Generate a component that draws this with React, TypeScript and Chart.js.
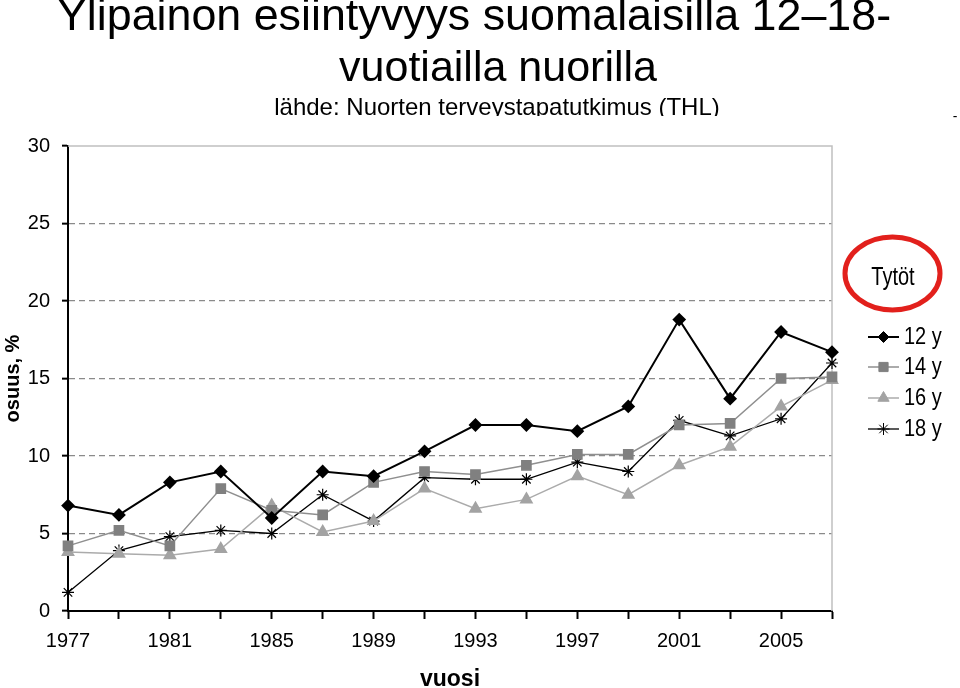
import React, { useEffect, useRef } from "react";
import { Chart, registerables } from "chart.js";

Chart.register(...registerables);

const years = ["1977", "1979", "1981", "1983", "1985", "1987", "1989", "1991", "1993", "1995", "1997", "1999", "2001", "2003", "2005", "2007"];
const labeledYears = ["1977", "1981", "1985", "1989", "1993", "1997", "2001", "2005"];
const girls12 = [6.8, 6.2, 8.3, 9.0, 6.0, 9.0, 8.7, 10.3, 12.0, 12.0, 11.6, 13.2, 18.8, 13.7, 18.0, 16.7];
const girls14 = [4.2, 5.2, 4.2, 7.9, 6.5, 6.2, 8.3, 9.0, 8.8, 9.4, 10.1, 10.1, 12.0, 12.1, 15.0, 15.1];
const girls16 = [3.8, 3.7, 3.6, 4.0, 6.8, 5.1, 5.8, 7.9, 6.6, 7.2, 8.7, 7.5, 9.4, 10.6, 13.2, 14.9];
const girls18 = [1.2, 3.9, 4.8, 5.2, 5.0, 7.5, 5.8, 8.6, 8.5, 8.5, 9.6, 9.0, 12.3, 11.3, 12.4, 16.0];
const seriesLabels = ["12 y", "14 y", "16 y", "18 y"];
const yMin = 0;
const yMax = 30;
const yStep = 5;

const titleLine1 = "Ylipainon esiintyvyys suomalaisilla 12–18-";
const titleLine2 = "vuotiailla nuorilla";
const subtitle = "lähde: Nuorten terveystapatutkimus (THL)";
const legendTitle = "Tytöt";
const yTitle = "osuus, %";
const xTitle = "vuosi";

const FONT = "'Liberation Sans', Arial, sans-serif";

function drawMarker(ctx: CanvasRenderingContext2D, style: string, x: number, y: number, r: number, fill: string, stroke: string) {
  ctx.save();
  ctx.fillStyle = fill;
  ctx.strokeStyle = stroke;
  ctx.lineWidth = 1;
  ctx.beginPath();
  if (style === "rectRot") {
    ctx.moveTo(x, y - r);
    ctx.lineTo(x + r, y);
    ctx.lineTo(x, y + r);
    ctx.lineTo(x - r, y);
    ctx.closePath();
    ctx.fill();
    ctx.stroke();
  } else if (style === "rect") {
    const s = r * Math.SQRT1_2;
    ctx.rect(x - s, y - s, 2 * s, 2 * s);
    ctx.fill();
    ctx.stroke();
  } else if (style === "triangle") {
    for (let i = 0; i < 3; i++) {
      const a = (i * 2 * Math.PI) / 3;
      const px = x + Math.sin(a) * r;
      const py = y - Math.cos(a) * r;
      if (i === 0) ctx.moveTo(px, py);
      else ctx.lineTo(px, py);
    }
    ctx.closePath();
    ctx.fill();
    ctx.stroke();
  } else {
    for (let i = 0; i < 4; i++) {
      const a = (i * Math.PI) / 4;
      ctx.moveTo(x - Math.cos(a) * r, y - Math.sin(a) * r);
      ctx.lineTo(x + Math.cos(a) * r, y + Math.sin(a) * r);
    }
    ctx.stroke();
  }
  ctx.restore();
}

const decorPlugin = {
  id: "decor",
  beforeDatasetsDraw(chart: any) {
    const { ctx, chartArea: a } = chart;
    ctx.save();
    ctx.strokeStyle = "#c0c0c0";
    ctx.lineWidth = 1.5;
    ctx.beginPath();
    ctx.moveTo(a.left, a.top);
    ctx.lineTo(a.right, a.top);
    ctx.lineTo(a.right, a.bottom);
    ctx.stroke();
    ctx.restore();
  },
  afterDraw(chart: any) {
    const ctx: CanvasRenderingContext2D = chart.ctx;
    ctx.save();
    ctx.fillStyle = "#000";
    ctx.textAlign = "center";
    ctx.textBaseline = "alphabetic";
    ctx.font = `44.8px ${FONT}`;
    ctx.fillText(titleLine1, 474, 30);
    ctx.font = `43px ${FONT}`;
    ctx.fillText(titleLine2, 498, 81);
    ctx.save();
    ctx.beginPath();
    ctx.rect(0, 85, 960, 31);
    ctx.clip();
    ctx.font = `24px ${FONT}`;
    ctx.fillText(subtitle, 497, 115);
    ctx.restore();
    ctx.font = `14px ${FONT}`;
    ctx.fillText("-", 955, 121);

    // legend title with red ellipse
    ctx.save();
    ctx.translate(893, 285);
    ctx.scale(1, 1.25);
    ctx.font = `20px ${FONT}`;
    ctx.fillText(legendTitle, 0, 0);
    ctx.restore();
    ctx.strokeStyle = "#e2201c";
    ctx.lineWidth = 5;
    ctx.beginPath();
    ctx.ellipse(892.5, 273.5, 47.5, 36.5, 0, 0, Math.PI * 2);
    ctx.stroke();

    // legend items
    const rows = [337, 367, 398, 429];
    chart.data.datasets.forEach((ds: any, i: number) => {
      const y = rows[i];
      ctx.strokeStyle = ds.borderColor;
      ctx.lineWidth = ds.borderWidth;
      ctx.beginPath();
      ctx.moveTo(868, y);
      ctx.lineTo(899, y);
      ctx.stroke();
      drawMarker(ctx, ds.pointStyle, 883.5, y, ds.pointRadius, ds.pointBackgroundColor, ds.pointBorderColor);
      ctx.save();
      ctx.fillStyle = "#000";
      ctx.textAlign = "left";
      ctx.textBaseline = "middle";
      ctx.translate(904, y + 1);
      ctx.scale(1, 1.15);
      ctx.font = `20px ${FONT}`;
      ctx.fillText(ds.label, 0, 0);
      ctx.restore();
    });
    ctx.restore();
  },
};

export default function App() {
  const ref = useRef<HTMLCanvasElement>(null);
  useEffect(() => {
    document.body.style.margin = "0";
    const canvas = ref.current!;
    const chart = new Chart(canvas, {
      type: "line",
      data: {
        labels: years,
        datasets: [
          {
            label: seriesLabels[0],
            data: girls12,
            borderColor: "#000000",
            borderWidth: 2,
            pointStyle: "rectRot",
            pointRadius: 5.5,
            pointBackgroundColor: "#000000",
            pointBorderColor: "#000000",
            clip: false,
          },
          {
            label: seriesLabels[1],
            data: girls14,
            borderColor: "#8f8f8f",
            borderWidth: 1.5,
            pointStyle: "rect",
            pointRadius: 6.5,
            pointBackgroundColor: "#808080",
            pointBorderColor: "#808080",
            clip: false,
          },
          {
            label: seriesLabels[2],
            data: girls16,
            borderColor: "#ababab",
            borderWidth: 1.5,
            pointStyle: "triangle",
            pointRadius: 6.5,
            pointBackgroundColor: "#a3a3a3",
            pointBorderColor: "#a3a3a3",
            clip: false,
          },
          {
            label: seriesLabels[3],
            data: girls18,
            borderColor: "#000000",
            borderWidth: 1.3,
            pointStyle: "star",
            pointRadius: 6,
            pointBackgroundColor: "#000000",
            pointBorderColor: "#000000",
            pointBorderWidth: 1.2,
            clip: false,
          },
        ] as any,
      },
      options: {
        animation: false,
        responsive: true,
        maintainAspectRatio: false,
        layout: { padding: { top: 146, right: 128, left: 0, bottom: 0 } },
        plugins: { legend: { display: false }, tooltip: { enabled: false }, title: { display: false } },
        elements: { line: { tension: 0 } },
        scales: {
          x: {
            type: "category",
            offset: false,
            afterFit: (s: any) => {
              s.height = 77;
            },
            grid: {
              drawOnChartArea: false,
              drawTicks: true,
              tickLength: 8,
              tickColor: "#000",
              tickWidth: 2,
              offset: false,
            },
            border: { display: true, color: "#000", width: 2 },
            ticks: {
              autoSkip: false,
              maxRotation: 0,
              padding: 10,
              color: "#000",
              font: { family: "Liberation Sans", size: 20 },
              callback: function (this: any, _v: any, idx: number) {
                const lbl = years[idx];
                return labeledYears.includes(lbl) ? lbl : "";
              },
            },
            title: {
              display: true,
              text: xTitle,
              color: "#000",
              font: { family: "Liberation Sans", size: 23, weight: "bold", lineHeight: 1 },
              padding: { top: 0, bottom: -3 },
            },
          },
          y: {
            min: yMin,
            max: yMax,
            afterFit: (s: any) => {
              s.width = 68;
            },
            grid: {
              color: (c: any) => (c.tick && (c.tick.value === yMax || c.tick.value === yMin) ? "rgba(0,0,0,0)" : "#8a8a8a"),
              lineWidth: 1.3,
              tickLength: 6,
              tickColor: "#000",
              tickWidth: 2,
            },
            border: { display: true, color: "#000", width: 2, dash: [6, 4] },
            ticks: {
              stepSize: yStep,
              padding: 12,
              color: "#000",
              font: { family: "Liberation Sans", size: 20 },
            },
            title: {
              display: true,
              text: yTitle,
              color: "#000",
              font: { family: "Liberation Sans", size: 20, weight: "bold", lineHeight: 1.2 },
              padding: { top: 1, bottom: 0 },
            },
          },
        },
      },
      plugins: [decorPlugin],
    } as any);
    return () => chart.destroy();
  }, []);
  return (
    <div style={{ position: "fixed", left: 0, top: 0, width: 960, height: 688, background: "#fff" }}>
      <canvas ref={ref} />
    </div>
  );
}
